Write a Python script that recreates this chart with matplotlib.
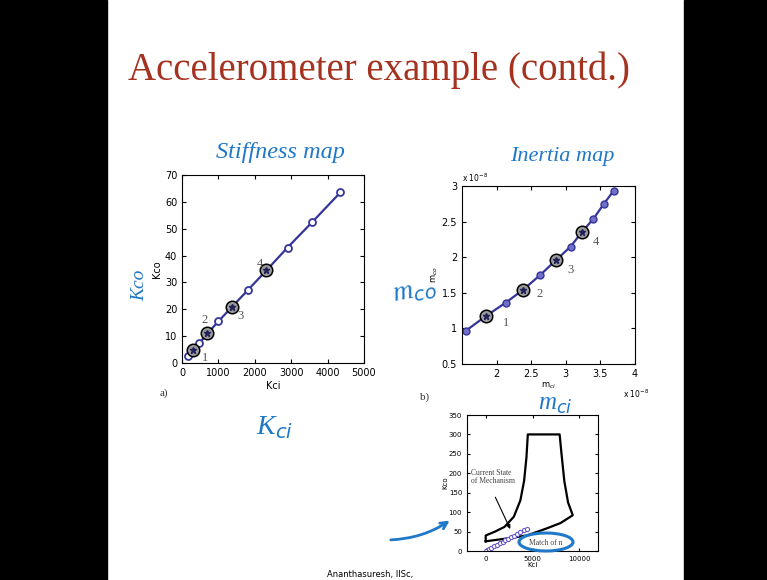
import matplotlib
matplotlib.use("Agg")
import matplotlib.pyplot as plt
from matplotlib.patches import Rectangle, Ellipse, FancyArrowPatch

W, H = 767, 580

# ── Data ─────────────────────────────────────────────────────────────────────
# a) stiffness map
kci = [170, 300, 480, 700, 1000, 1380, 1800, 2320, 2900, 3580, 4350]
kco = [2.5, 5.0, 7.5, 11.0, 15.5, 21.0, 27.0, 34.5, 43.0, 52.5, 63.5]
kci_sel = [300, 700, 1380, 2320]
kco_sel = [5.0, 11.0, 21.0, 34.5]
a_labels = ["1", "2", "3", "4"]
a_label_xy = [(620, 2.0), (620, 16.0), (1620, 17.5), (2130, 37.0)]

# b) inertia map (x 1e-8)
mci = [1.56, 1.84, 2.13, 2.38, 2.63, 2.86, 3.07, 3.23, 3.40, 3.55, 3.69]
mco = [0.97, 1.17, 1.36, 1.54, 1.75, 1.96, 2.15, 2.35, 2.54, 2.75, 2.93]
mci_sel = [1.84, 2.38, 2.86, 3.23]
mco_sel = [1.17, 1.54, 1.96, 2.35]
b_labels = ["1", "2", "3", "4"]
b_label_xy = [(2.13, 1.08), (2.62, 1.48), (3.07, 1.82), (3.44, 2.22)]

# c) feasible region in (Kci, Kco)
region_x = [0, 0, 1000, 2000, 3000, 3700, 4100, 4350, 4500, 7900, 8100, 8400, 8800, 9300,
            8000, 6500, 4400, 2200, 0]
region_y = [25, 40, 50, 62, 88, 130, 180, 240, 300, 300, 250, 180, 125, 92,
            72, 58, 40, 32, 25]
path_x = [0, 300, 600, 900, 1200, 1500, 1800, 2100, 2400, 2700, 3000, 3300, 3700, 4100, 4400]
path_y = [0, 4, 8, 12, 16, 20, 24, 28, 32, 35, 39, 43, 48, 53, 57]

LINE = "#35359a"
INK = "#1f78c8"
RED = "#a5321f"

def fx(x): return x / W
def fy(y): return 1 - y / H

fig = plt.figure(figsize=(W / 100, H / 100), dpi=100)
fig.patch.set_facecolor("white")

# black side bars
fig.patches.append(Rectangle((0, 0), fx(107), 1, transform=fig.transFigure,
                             color="black", zorder=0))
fig.patches.append(Rectangle((fx(684), 0), 1 - fx(684), 1, transform=fig.transFigure,
                             color="black", zorder=0))

fig.text(fx(379), fy(70), "Accelerometer example (contd.)", color=RED,
         family="Liberation Serif", fontsize=28, ha="center", va="center")

tick_kw = dict(labelsize=7, direction="in", length=3, top=True, right=True)

# ── a) Stiffness map ─────────────────────────────────────────────────────────
ax1 = fig.add_axes([fx(182), fy(363), fx(364) - fx(182), fy(175) - fy(363)])
ax1.plot(kci, kco, color=LINE, lw=1.6, marker="o", mfc="white", mec=LINE, ms=5, mew=1.3)
ax1.plot(kci_sel, kco_sel, ls="none", marker="o", ms=9, mfc="#9a9a9a", mec="black", mew=1.1)
ax1.plot(kci_sel, kco_sel, ls="none", marker="*", ms=5, color="#20205a")
for t, (x, y) in zip(a_labels, a_label_xy):
    ax1.text(x, y, t, family="Liberation Serif", fontsize=9, color="#555555",
             ha="center", va="center")
ax1.set_xlim(0, 5000)
ax1.set_ylim(0, 70)
ax1.set_xticks(range(0, 5001, 1000))
ax1.set_yticks(range(0, 71, 10))
ax1.tick_params(**tick_kw)
ax1.set_xlabel("Kci", fontsize=7, labelpad=2)
ax1.set_ylabel("Kco", fontsize=7, labelpad=2)

# ── b) Inertia map ───────────────────────────────────────────────────────────
ax2 = fig.add_axes([fx(462), fy(364), fx(635) - fx(462), fy(186) - fy(364)])
ax2.plot(mci, mco, color=LINE, lw=1.6, marker="o", mfc="#7070c8", mec=LINE, ms=5, mew=1.0)
ax2.plot(mci_sel, mco_sel, ls="none", marker="o", ms=9, mfc="#9a9a9a", mec="black", mew=1.1)
ax2.plot(mci_sel, mco_sel, ls="none", marker="*", ms=5, color="#20205a")
for t, (x, y) in zip(b_labels, b_label_xy):
    ax2.text(x, y, t, family="Liberation Serif", fontsize=9, color="#555555",
             ha="center", va="center")
ax2.set_xlim(1.5, 4)
ax2.set_ylim(0.5, 3)
ax2.set_xticks([2, 2.5, 3, 3.5, 4])
ax2.set_yticks([0.5, 1, 1.5, 2, 2.5, 3])
ax2.set_xticklabels(["2", "2.5", "3", "3.5", "4"])
ax2.set_yticklabels(["0.5", "1", "1.5", "2", "2.5", "3"])
ax2.tick_params(**tick_kw)
ax2.set_xlabel("m$_{ci}$", fontsize=6, labelpad=1)
ax2.set_ylabel("m$_{co}$", fontsize=6, labelpad=1)
ax2.text(0.0, 1.01, r"x 10$^{-8}$", transform=ax2.transAxes, fontsize=5.5, va="bottom")
ax2.text(0.93, -0.13, r"x 10$^{-8}$", transform=ax2.transAxes, fontsize=5.5, va="top")

# ── c) Design region ─────────────────────────────────────────────────────────
ax3 = fig.add_axes([fx(467), fy(551), fx(598) - fx(467), fy(415) - fy(551)])
ax3.plot(region_x, region_y, color="black", lw=1.6)
ax3.plot(path_x, path_y, color="#6a5acd", lw=0.8, marker="o", mfc="white",
         mec="#6a5acd", ms=3, mew=0.8)
ax3.set_xlim(-2000, 12000)
ax3.set_ylim(0, 350)
ax3.set_xticks([0, 5000, 10000])
ax3.set_yticks(range(0, 351, 50))
ax3.tick_params(labelsize=5, direction="in", length=2, top=True, right=True)
ax3.set_xlabel("Kci", fontsize=5, labelpad=0)
ax3.set_ylabel("Kco", fontsize=5, labelpad=0)
ax3.text(-1600, 190, "Current State\nof Mechanism", family="Liberation Serif",
         fontsize=5.5, color="#444444", va="center", linespacing=1.1)
ax3.annotate("", xy=(2750, 50), xytext=(900, 145),
             arrowprops=dict(arrowstyle="-|>", color="black", lw=0.8, mutation_scale=6))
ax3.text(4600, 20, "Match of n", family="Liberation Serif", fontsize=5.5,
         color="#444444", va="center")

# ── handwritten annotations ─────────────────────────────────────────────────
hand = dict(color=INK, family="Liberation Serif", style="italic")
fig.text(fx(280), fy(152), "Stiffness map", fontsize=17.5, ha="center", va="center", **hand)
fig.text(fx(562), fy(157), "Inertia map", fontsize=16, ha="center", va="center", **hand)
fig.text(fx(140), fy(285), "Kco", fontsize=14, rotation=90, ha="center", va="center", **hand)
fig.text(fx(415), fy(292), "m$_{co}$", fontsize=20, rotation=10, ha="center", va="center", **hand)
fig.text(fx(275), fy(428), "K$_{ci}$", fontsize=20, ha="center", va="center", **hand)
fig.text(fx(555), fy(405), "m$_{ci}$", fontsize=18, ha="center", va="center", **hand)
fig.patches.append(Ellipse((fx(546), fy(542)), fx(54), 18 / H, transform=fig.transFigure,
                           fill=False, ec=INK, lw=2.2))
fig.add_artist(FancyArrowPatch(
    (fx(388), fy(540)), (fx(452), fy(519)), transform=fig.transFigure,
    connectionstyle="arc3,rad=0.15", arrowstyle="->", mutation_scale=12,
    color=INK, lw=2.0))

fig.text(fx(160), fy(396), "a)", family="Liberation Serif", fontsize=8, color="#333333")
fig.text(fx(420), fy(400), "b)", family="Liberation Serif", fontsize=8, color="#333333")
fig.text(fx(370), fy(574), "Ananthasuresh, IISc,", fontsize=6, ha="center", va="center")

fig.savefig("out.png", dpi=100)
